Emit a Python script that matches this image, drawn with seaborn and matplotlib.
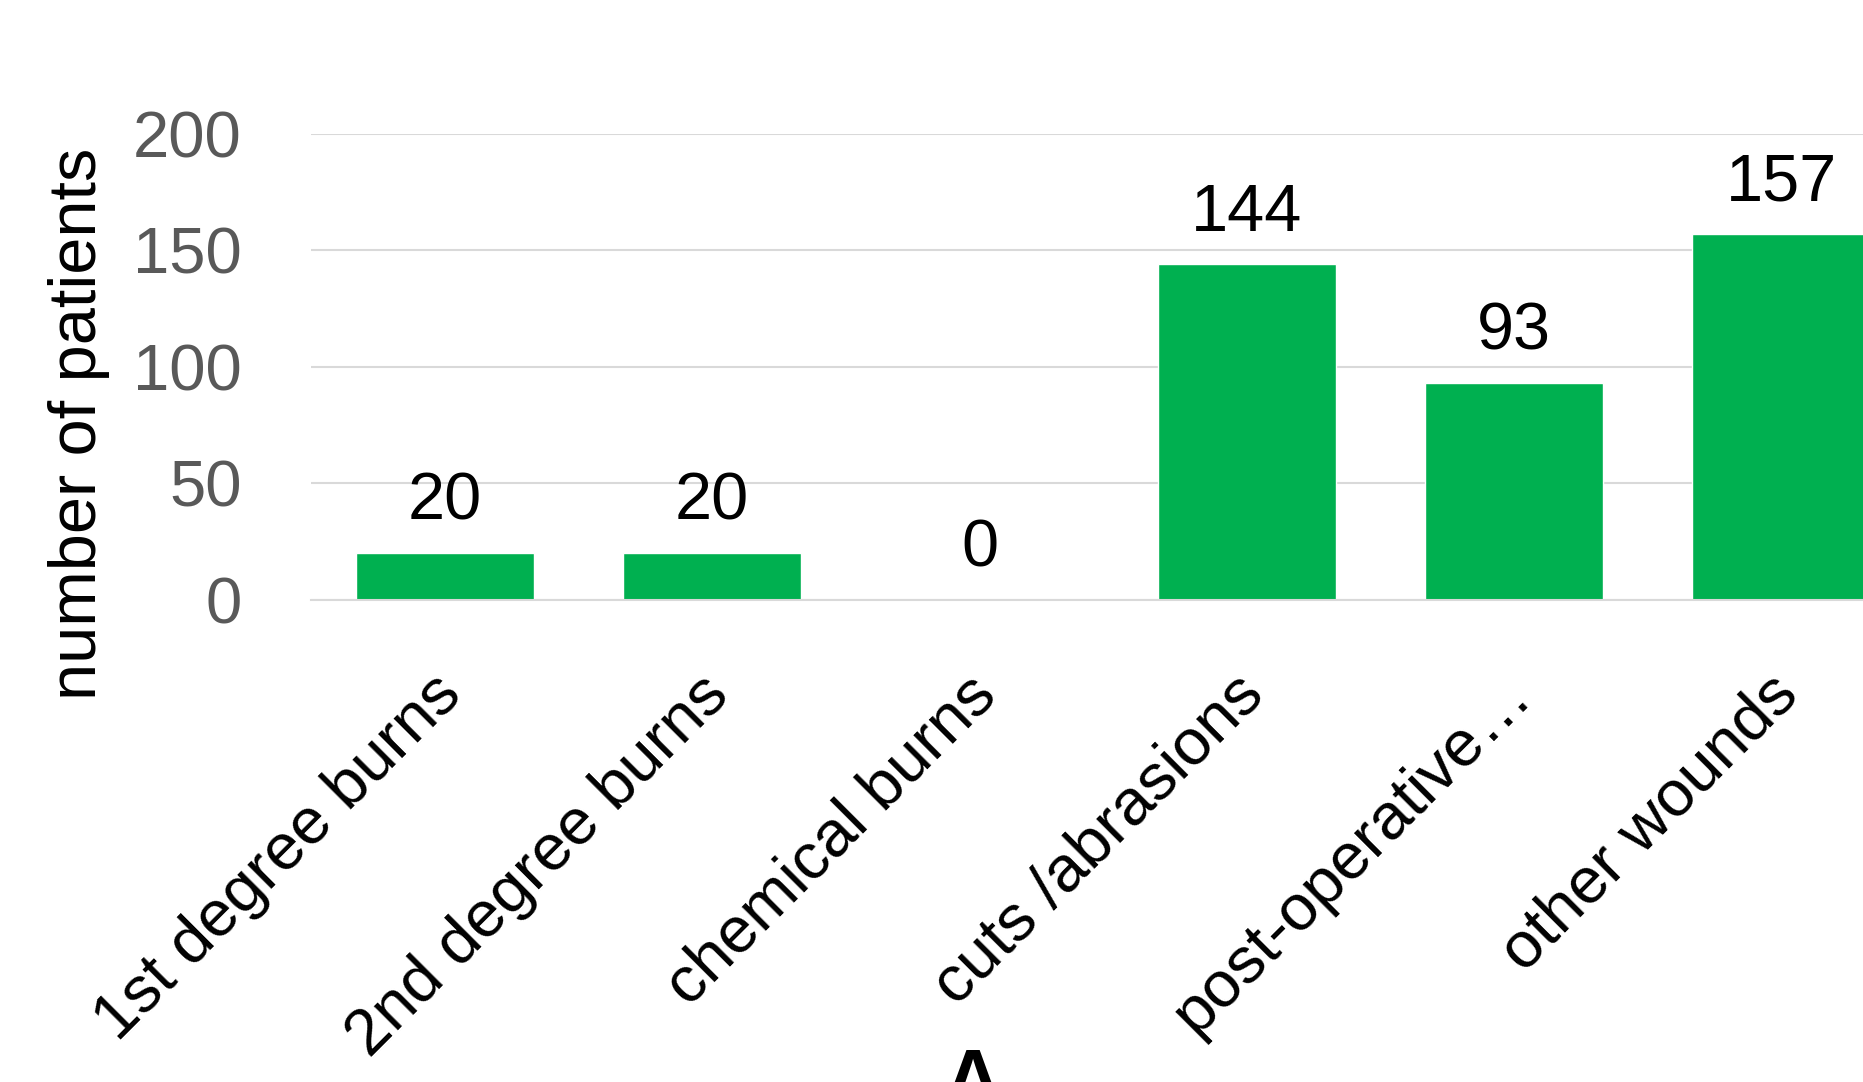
import matplotlib
matplotlib.use("Agg")
import matplotlib.pyplot as plt
from matplotlib.transforms import ScaledTranslation
import seaborn as sns
import pandas as pd

# -----------------------------
# Data
# -----------------------------
categories = ["1st degree burns", "2nd degree burns", "chemical burns",
              "cuts /abrasions", "post-operative\u2026", "other wounds"]
patients = [20, 20, 0, 144, 93, 157]
y_ticks = [0, 50, 100, 150, 200]

df = pd.DataFrame({"category": categories, "patients": patients})

sns.set_theme(style="white")
plt.rcParams["font.family"] = ["Liberation Sans", "DejaVu Sans"]

fig = plt.figure(figsize=(18.63, 10.82), dpi=100)
# axes runs past the right edge, like the cropped original
ax = fig.add_axes([0.167, 0.4455, 0.861, 0.4307])

sns.barplot(data=df, x="category", y="patients", color="#00B050",
            width=0.667, saturation=1, ax=ax)

ax.set_ylim(0, 200)
ax.set_yticks(y_ticks)
ax.set_xlim(-0.5, len(categories) - 0.5)
ax.yaxis.grid(True, color="#D9D9D9", linewidth=1.5)
ax.set_axisbelow(True)
for s in ["top", "right", "left"]:
    ax.spines[s].set_visible(False)
ax.spines["bottom"].set_color("#D9D9D9")
ax.spines["bottom"].set_linewidth(1.5)

ax.tick_params(axis="y", labelsize=47, labelcolor="#595959", length=0, pad=50)
ax.tick_params(axis="x", labelsize=47, labelcolor="black", length=0, pad=46)
shift = ScaledTranslation(-0.14, 0, fig.dpi_scale_trans)
for lab in ax.get_xticklabels():
    lab.set_rotation(45)
    lab.set_ha("right")
    lab.set_rotation_mode("anchor")
    lab.set_transform(lab.get_transform() + shift)

ax.set_xlabel("")
ax.set_ylabel("number of patients", fontsize=48, color="black", va="center")
ax.yaxis.set_label_coords(-0.145, 0.378)

# value labels
for i, v in enumerate(patients):
    ax.annotate(str(v), (i, v), xytext=(0, 14), textcoords="offset points",
                ha="center", va="bottom", fontsize=48, color="black")

# panel letter, cut off at the bottom
fig.text(0.522, 0.033, "A", ha="center", va="top", fontsize=56,
         fontweight="bold", color="black")

plt.savefig("out.png", dpi=100)
